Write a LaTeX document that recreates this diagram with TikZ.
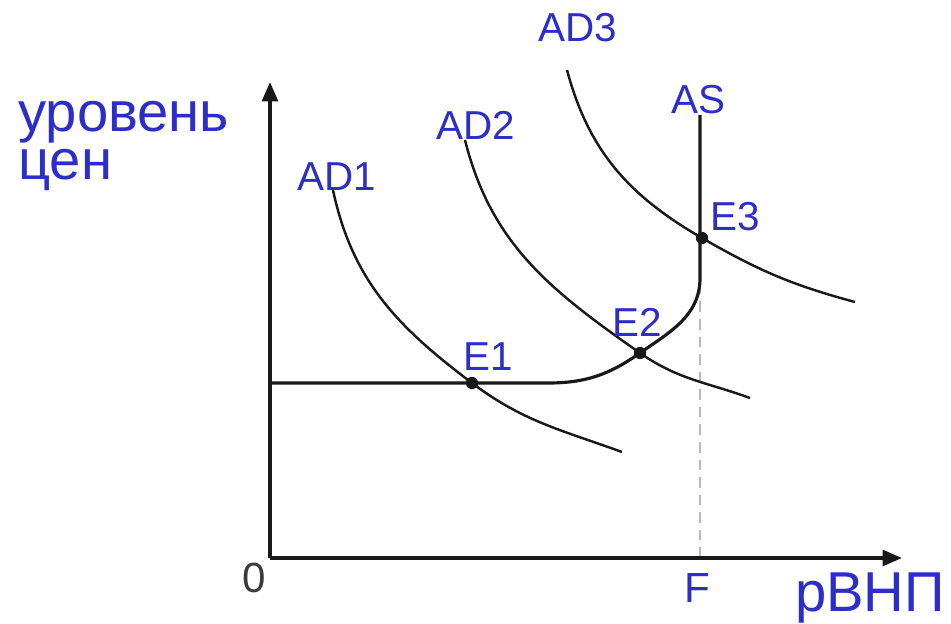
\documentclass[tikz,border=0pt]{standalone}
\usepackage{fontspec}
\setmainfont{Liberation Sans}
\usetikzlibrary{arrows.meta}
\definecolor{LabelBlue} {RGB}{ 45, 45,200}
\definecolor{CurveBlack}{RGB}{ 25, 25, 25}
\definecolor{DashGray}  {RGB}{185,185,185}
\tikzset{
  %% оси и кривые
  axarr/.style={-{Triangle[length=11pt,width=9pt]},line width=1.9pt,color=CurveBlack},
  adcurve/.style={line width=1.4pt,color=CurveBlack},
  ascurve/.style={line width=1.8pt,color=CurveBlack},
  fdash/.style={line width=0.9pt,color=DashGray,dash pattern=on 6pt off 4pt},
  %% точки равновесия
  eqdot/.style={circle,fill=CurveBlack,inner sep=0pt,minimum size=7pt},
  %% подписи
  lbl/.style={inner sep=0pt,text=LabelBlue,font=\fontsize{23}{25}\selectfont},
  axlbl/.style={inner sep=0pt,text=LabelBlue,font=\fontsize{32}{27.5}\selectfont},
  numlbl/.style={inner sep=0pt,text=CurveBlack!85,font=\fontsize{24}{26}\selectfont},
}
\begin{document}
\begin{tikzpicture}[x=0.02cm,y=0.02cm]
        \useasboundingbox[fill=white] (0,0) rectangle (951,623);

        \coordinate (O)    at (270,65);
        \coordinate (Ytip) at (270,541);
        \coordinate (Xtip) at (902,65);
        \coordinate (F)    at (700,65);
        \coordinate (ASa)  at (270,240);
        \coordinate (ASb)  at (548,240);
        \coordinate (ASc)  at (700,345);
        \coordinate (AStop) at (700,508);

        \coordinate (AD1s) at (333,433);
        \coordinate (AD1e) at (622,171);
        \coordinate (AD2s) at (465,483);
        \coordinate (AD2e) at (750,225);
        \coordinate (AD3s) at (567,553);
        \coordinate (AD3e) at (855,321);

        %% пунктир к F
        \draw[fdash] (F) -- (ASc);

        \draw[axarr] (O) -- (Ytip);
        \draw[axarr] (O) -- (Xtip);

        \coordinate (pE1) at (472,240);
        \coordinate (pE2) at (640,270);
        \coordinate (pE3) at (702,385);

        \draw[ascurve] (ASa) -- (ASb) to[out=0,in=215] (pE2)
              to[out=35,in=-90] (ASc) -- (AStop);

        \draw[adcurve] (AD1s) to[out=-78,in=143] (pE1) to[out=-37,in=160] (AD1e);
        \draw[adcurve] (AD2s) to[out=-76,in=145] (pE2) to[out=-35,in=160] (AD2e);
        \draw[adcurve] (AD3s) to[out=-75,in=150] (pE3) to[out=-30,in=165] (AD3e);

        \node[eqdot] (E1) at (pE1) {};
        \node[eqdot] (E2) at (pE2) {};
        \node[eqdot] (E3) at (pE3) {};

        \node[lbl] (lAD1) at (337,446) {AD1};
        \node[lbl] (lAD2) at (476,498) {AD2};
        \node[lbl] (lAD3) at (578,595) {AD3};
        \node[lbl] (lAS)  at (698,523) {AS};
        \node[lbl] (lE1)  at (488,266) {E1};
        \node[lbl] (lE2)  at (637,301) {E2};
        \node[lbl] (lE3)  at (735,406) {E3};

        \node[axlbl,align=left,anchor=north west] (lP) at (18,522) {уровень\\цен};
        \node[axlbl] (lQ) at (870,25) {рВНП};
        \node[numlbl] (l0) at (254,45) {0};
        \node[numlbl,text=LabelBlue] (lF) at (697,35) {F};
      \end{tikzpicture}
\end{document}
